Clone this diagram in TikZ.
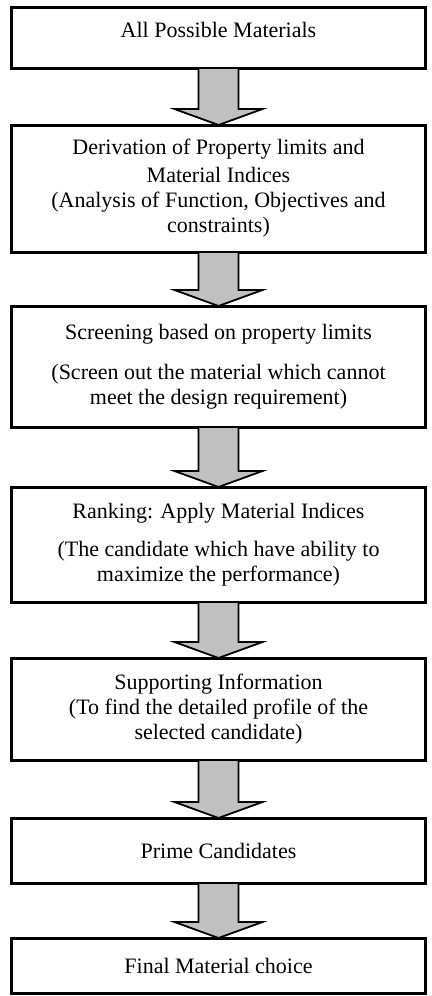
\documentclass[tikz,border=0pt]{standalone}
\usepackage{fontspec}
\setmainfont{Liberation Serif}
\usepackage{xcolor}
\usepackage{tikz}
\usetikzlibrary{positioning,calc}
\definecolor{ArrowGray}{HTML}{C0C0C0}

% fat grey arrow from the bottom of one box to the top of the next
\newcommand{\flowarrow}[2]{%
  \draw[fatarrow] ($(#1.south)+(-20,0)$) -- ($(#1.south)+(20,0)$)
    -- ($(#2.north)+(20,16)$) -- ($(#2.north)+(44,16)$) -- (#2.north)
    -- ($(#2.north)+(-44,16)$) -- ($(#2.north)+(-20,16)$) -- cycle;}

\begin{document}
\begin{tikzpicture}[x=0.5pt,y=0.5pt,font=\fontsize{11}{12.5}\selectfont]
  \tikzstyle{stage}=[draw,line width=1.5pt,minimum width=207pt,align=center,inner sep=3pt,outer sep=0pt]
  \tikzstyle{fatarrow}=[draw,fill=ArrowGray,line width=0.9pt,line join=miter]
  \useasboundingbox (0,0) rectangle (432,-996);
  \node[stage,minimum height=30.5pt,text depth=7.5pt,anchor=north] (s1) at (218.5,-7) {All Possible Materials};
  \node[stage,minimum height=63.5pt,below=28.5pt of s1] (s2) {Derivation of Property limits and\\[1.5pt] Material Indices\\ (Analysis of Function, Objectives and\\ constraints)};
  \node[stage,minimum height=60.5pt,below=27pt of s2] (s3) {Screening based on property limits\\[7.5pt] (Screen out the material which cannot\\ meet the design requirement)};
  \node[stage,minimum height=57.5pt,below=30pt of s3] (s4) {Ranking: Apply Material Indices\\[6.5pt] (The candidate which have ability to\\ maximize the performance)};
  \node[stage,minimum height=51pt,below=28pt of s4] (s5) {Supporting Information\\ (To find the detailed profile of the\\ selected candidate)};
  \node[stage,minimum height=32.5pt,below=29pt of s5] (s6) {Prime Candidates};
  \node[stage,minimum height=27.5pt,below=27.5pt of s6] (s7) {Final Material choice};
  \flowarrow{s1}{s2}
  \flowarrow{s2}{s3}
  \flowarrow{s3}{s4}
  \flowarrow{s4}{s5}
  \flowarrow{s5}{s6}
  \flowarrow{s6}{s7}
\end{tikzpicture}
\end{document}
